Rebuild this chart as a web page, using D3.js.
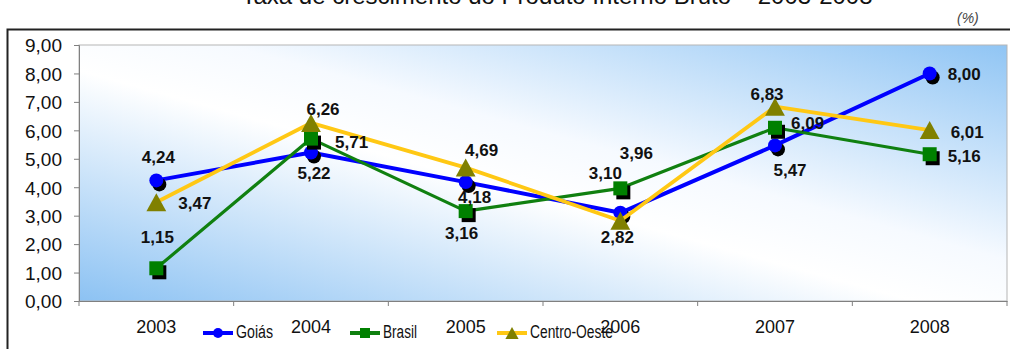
<!DOCTYPE html>
<html>
<head>
<meta charset="utf-8">
<script src="https://cdn.jsdelivr.net/npm/d3@7/dist/d3.min.js"></script>
<style>
  html, body { margin: 0; padding: 0; background: #fff; }
  svg { display: block; font-family: "Liberation Sans", Arial, sans-serif; }
</style>
</head>
<body>
<svg id="chart" width="1010" height="349"></svg>
<script>
// Taxa de crescimento do PIB (%), 2003-2008
const years = ["2003", "2004", "2005", "2006", "2007", "2008"];
const goias = [4.24, 5.22, 4.18, 3.10, 5.47, 8.00];
const brasil = [1.15, 5.71, 3.16, 3.96, 6.09, 5.16];
const centroOeste = [3.47, 6.26, 4.69, 2.82, 6.83, 6.01];
const yTicks = [0, 1, 2, 3, 4, 5, 6, 7, 8, 9];
const seriesNames = ["Goiás", "Brasil", "Centro-Oeste"];

// Value-label placement around each point: [dx, dy(baseline), anchor]
const labelPlacement = {
  "Goiás": [[2, -17, "middle"], [3, 26, "middle"], [9, 21, "middle"], [-15, -34, "middle"], [15, 31, "middle"], [18, 7, "start"]],
  "Brasil": [[1, -25, "middle"], [24, 9, "start"], [-4, 28, "middle"], [16, -29, "middle"], [16, 1, "start"], [18, 8, "start"]],
  "Centro-Oeste": [[22, 7, "start"], [12, -8, "middle"], [16, -12, "middle"], [-3, 22, "middle"], [-8, -7, "middle"], [21, 8, "start"]]
};

const svg = d3.select("#chart");
const plot = { left: 79, right: 1007, top: 45, bottom: 301 };

const x = d3.scaleBand().domain(years).range([plot.left, plot.right]);
const y = d3.scaleLinear().domain([0, 9]).range([plot.bottom, plot.top]);
const locale = d3.formatLocale({ decimal: ",", thousands: ".", grouping: [3], currency: ["R$", ""] });
const fmt = locale.format(".2f");

// Background gradient for the plot area
const defs = svg.append("defs");
const grad = defs.append("linearGradient").attr("id", "bg")
  .attr("x1", "0").attr("y1", "1").attr("x2", "1").attr("y2", "0");
grad.append("stop").attr("offset", "0%").attr("stop-color", "#8cc2f3");
grad.append("stop").attr("offset", "45%").attr("stop-color", "#ffffff");
grad.append("stop").attr("offset", "58%").attr("stop-color", "#f6faff");
grad.append("stop").attr("offset", "100%").attr("stop-color", "#90c5f4");

// Title (partially above the frame)
svg.append("text").attr("x", 557).attr("y", 4).attr("text-anchor", "middle")
  .attr("font-size", 24).attr("fill", "#111")
  .text("Taxa de crescimento do Produto Interno Bruto – 2003-2008");
svg.append("text").attr("x", 957).attr("y", 23).attr("font-size", 14)
  .attr("font-style", "italic").attr("fill", "#444").text("(%)");

// Chart frame
svg.append("rect").attr("x", 7.5).attr("y", 29.5).attr("width", 1010).attr("height", 340)
  .attr("fill", "none").attr("stroke", "#222").attr("stroke-width", 2);

// Plot area
svg.append("rect").attr("x", plot.left).attr("y", plot.top)
  .attr("width", plot.right - plot.left).attr("height", plot.bottom - plot.top)
  .attr("fill", "url(#bg)").attr("stroke", "#b5b5b5").attr("stroke-width", 1);

// Y axis
const yAxis = svg.append("g").attr("transform", `translate(${plot.left},0)`)
  .call(d3.axisLeft(y).tickValues(yTicks).tickFormat(fmt).tickSize(5).tickPadding(12));
yAxis.select(".domain").attr("stroke", "#808080");
yAxis.selectAll(".tick line").attr("stroke", "#808080");
yAxis.selectAll(".tick text").attr("font-size", 19).attr("fill", "#111")
  .attr("font-family", "Liberation Sans, Arial, sans-serif").attr("dy", "0.36em");

// X axis: ticks between categories
const xAxis = svg.append("g").attr("transform", `translate(0,${plot.bottom})`)
  .call(d3.axisBottom(x).tickSize(0).tickPadding(19));
xAxis.select(".domain").attr("stroke", "#808080");
xAxis.selectAll(".tick text").attr("font-size", 18).attr("fill", "#111")
  .attr("font-family", "Liberation Sans, Arial, sans-serif");
const bounds = years.map(d => x(d)).concat([plot.right]);
svg.append("g").selectAll("line").data(bounds).join("line")
  .attr("x1", d => d).attr("x2", d => d)
  .attr("y1", plot.bottom).attr("y2", plot.bottom + 5)
  .attr("stroke", "#808080");

const cx = i => x(years[i]) + x.bandwidth() / 2;

const series = [
  { name: "Goiás", values: goias, line: "#0000ff", fill: "#0000ff", width: 4, shape: "circle" },
  { name: "Brasil", values: brasil, line: "#108010", fill: "#008000", width: 3.2, shape: "square" },
  { name: "Centro-Oeste", values: centroOeste, line: "#ffc814", fill: "#808000", width: 3.8, shape: "triangle" }
];

function drawMarker(g, shape, px, py, size, color) {
  if (shape === "circle") {
    g.append("circle").attr("cx", px).attr("cy", py).attr("r", size / 2).attr("fill", color);
  } else if (shape === "square") {
    g.append("rect").attr("x", px - size / 2).attr("y", py - size / 2)
      .attr("width", size).attr("height", size).attr("fill", color);
  } else {
    const h = size;
    g.append("path").attr("d", `M${px},${py - h / 2} L${px + h * 0.55},${py + h / 2} L${px - h * 0.55},${py + h / 2} Z`)
      .attr("fill", color);
  }
}

const lineGen = d3.line().x((d, i) => cx(i)).y(d => y(d));

series.forEach(s => {
  const g = svg.append("g");
  g.append("path").datum(s.values).attr("d", lineGen)
    .attr("fill", "none").attr("stroke", s.line).attr("stroke-width", s.width)
    .attr("stroke-linejoin", "round");
  s.values.forEach((v, i) => {
    const size = s.shape === "circle" ? 14 : s.shape === "square" ? 14 : 18;
    if (s.shape !== "triangle") drawMarker(g, s.shape, cx(i) + 3, y(v) + 4, size, "#000");
    drawMarker(g, s.shape, cx(i), y(v), size, s.fill);
  });
});

// Value labels
series.forEach(s => {
  svg.append("g").selectAll("text").data(s.values).join("text")
    .attr("x", (d, i) => cx(i) + labelPlacement[s.name][i][0])
    .attr("y", (d, i) => y(d) + labelPlacement[s.name][i][1])
    .attr("text-anchor", (d, i) => labelPlacement[s.name][i][2])
    .attr("font-size", 17).attr("font-weight", "bold").attr("fill", "#111")
    .text(d => fmt(d));
});

// Legend (condensed labels)
const legendX = [203, 350, 497];
const legendTextWidth = [37, 34, 83];
const legend = svg.append("g");
series.forEach((s, k) => {
  const lx = legendX[k], ly = 333;
  legend.append("line").attr("x1", lx).attr("x2", lx + 30).attr("y1", ly).attr("y2", ly)
    .attr("stroke", s.line).attr("stroke-width", 4);
  drawMarker(legend, s.shape, lx + 15, ly, s.shape === "triangle" ? 12 : 10, s.fill);
  legend.append("text").attr("x", lx + 33).attr("y", ly + 5).attr("font-size", 18)
    .attr("textLength", legendTextWidth[k]).attr("lengthAdjust", "spacingAndGlyphs")
    .attr("fill", "#111").text(seriesNames[k]);
});
</script>
</body>
</html>
